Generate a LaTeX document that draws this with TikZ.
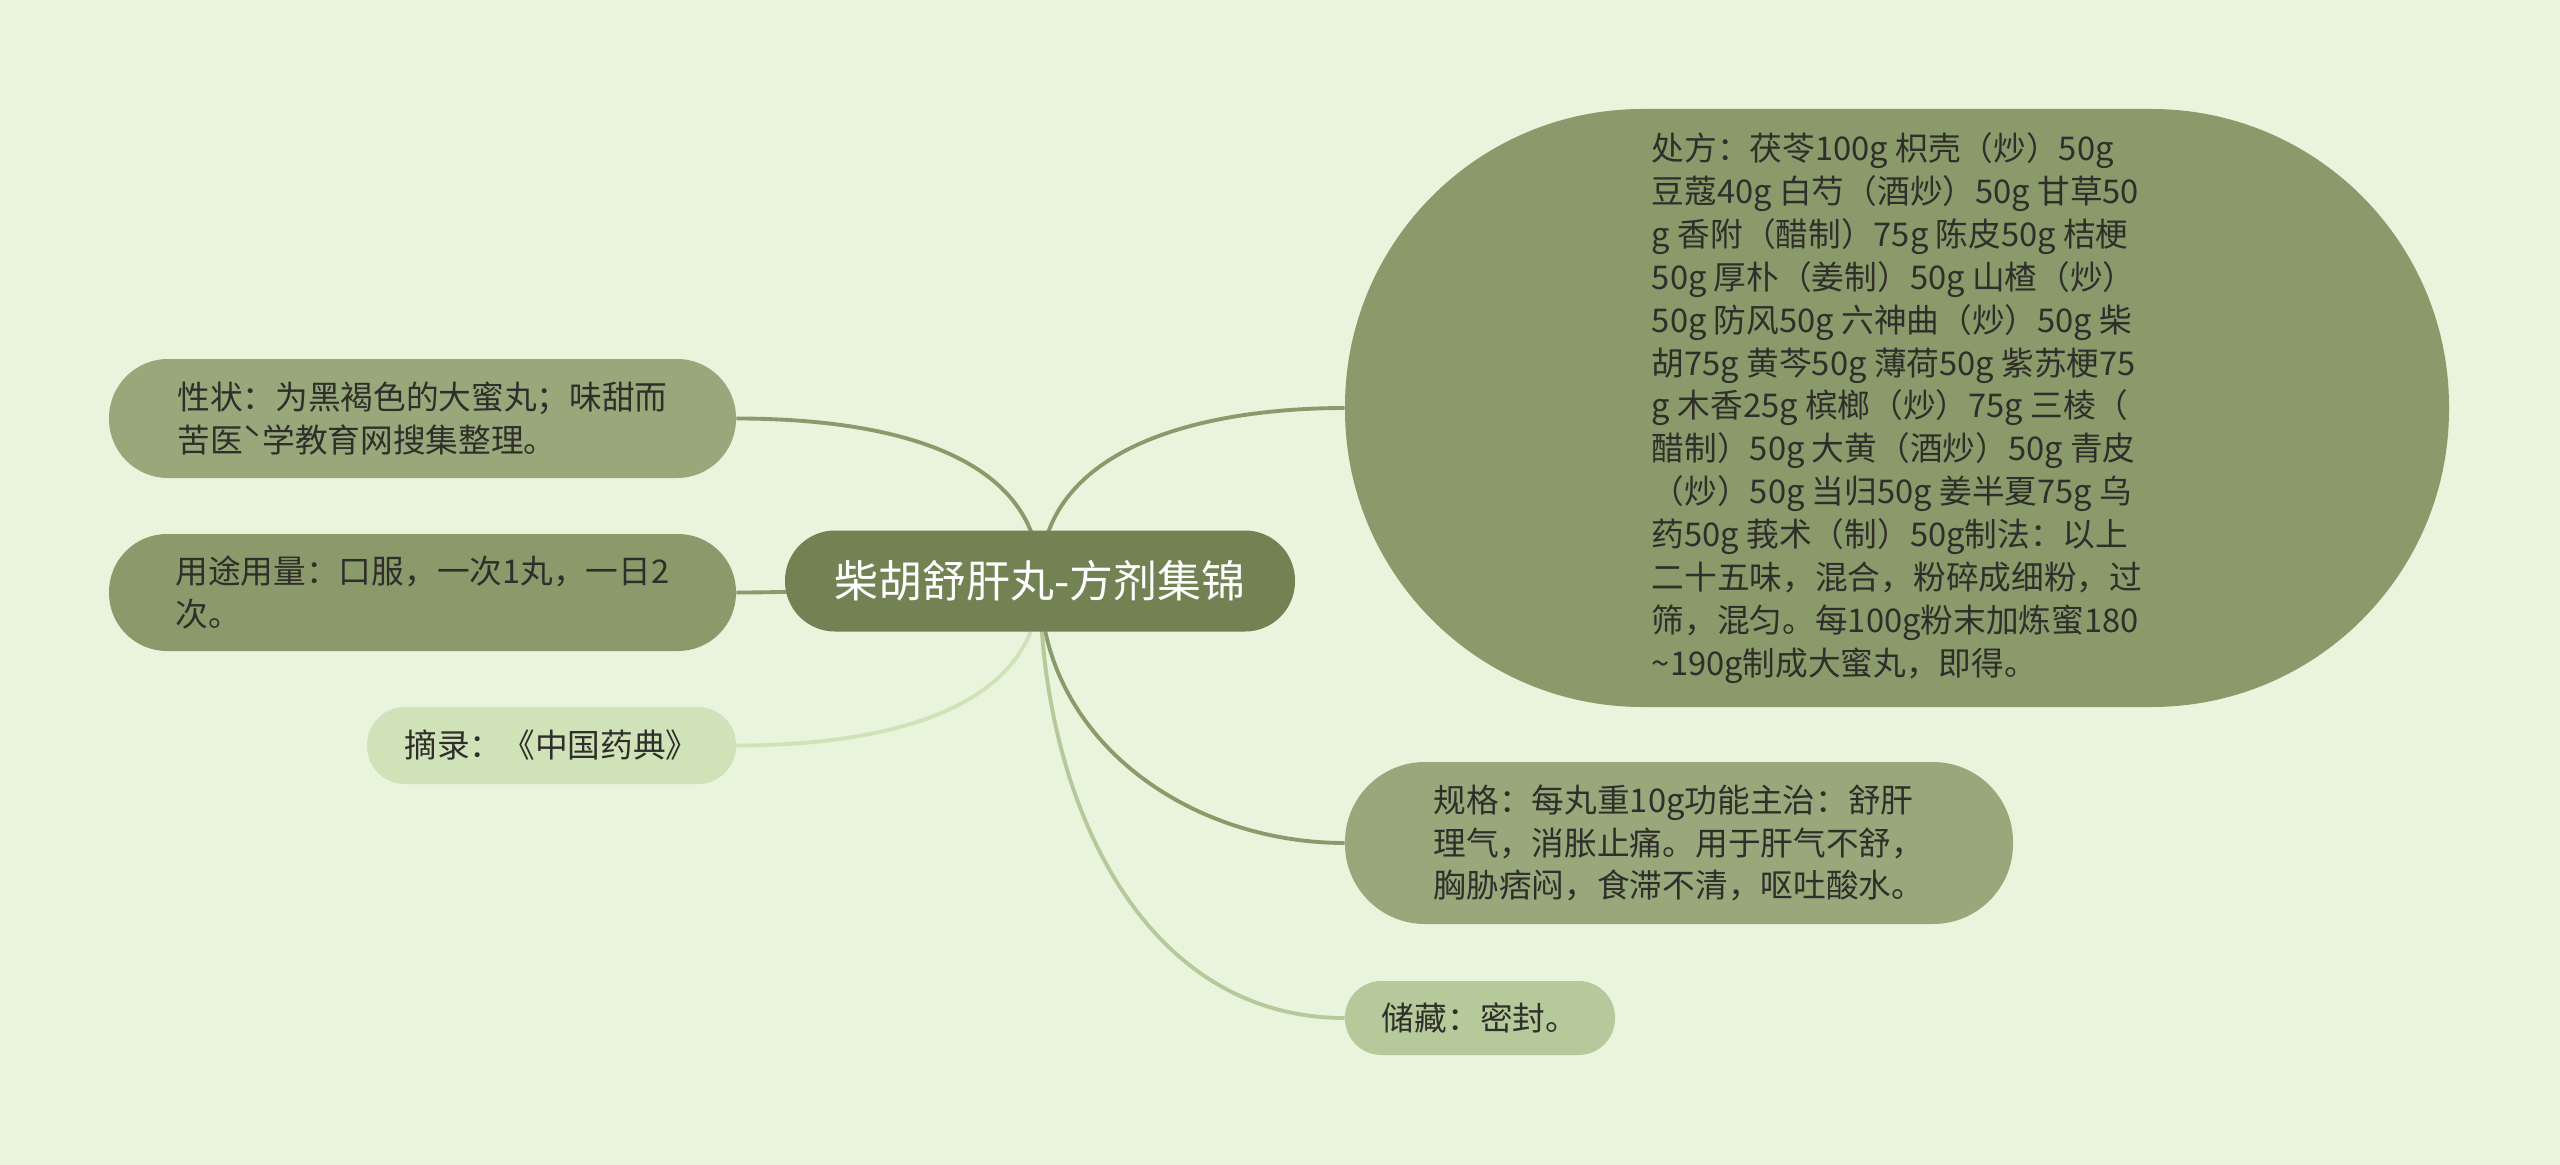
\documentclass[tikz,border=0pt]{standalone}
\usepackage{fontspec}
\setmainfont{Noto Sans CJK SC}
\usepackage{tikz}
\usetikzlibrary{positioning,backgrounds}

\definecolor{bgcol}{HTML}{E8F4DC}
\definecolor{rootcol}{HTML}{738253}
\definecolor{darkleaf}{HTML}{8A9A6A}
\definecolor{midleaf}{HTML}{98A87B}
\definecolor{lightleaf}{HTML}{B5C99A}
\definecolor{paleleaf}{HTML}{D0E2B8}
\definecolor{txtcol}{HTML}{2E2E2A}

\tikzset{
  leaf/.style={fill=#1, text=txtcol, align=left, inner sep=0pt,
    font=\fontsize{18.6}{24.4}\selectfont},
  link/.style={draw=#1, line width=2.2pt},
}

\begin{document}
\begin{tikzpicture}
  \useasboundingbox (0,0) rectangle (51.2,-23.3);

  % root
  \node[fill=rootcol, text=white, rounded corners=1cm, minimum width=10.2cm,
    minimum height=2.02cm, font=\fontsize{25}{30}\selectfont]
    (root) at (20.8,-11.62) {柴胡舒肝丸-方剂集锦};

  % left side
  \node[leaf=midleaf, rounded corners=1.18cm, minimum width=12.54cm, minimum height=2.38cm]
    (xingzhuang) at (8.45,-8.37)
    {性状：为黑褐色的大蜜丸；味甜而\\苦医ˋ学教育网搜集整理。};
  \node[leaf=darkleaf, rounded corners=1.16cm, minimum width=12.54cm, minimum height=2.34cm]
    (yongtu) at (8.45,-11.85)
    {用途用量：口服，一次1丸，一日2\\次。};
  \node[leaf=paleleaf, rounded corners=0.76cm, minimum width=7.38cm, minimum height=1.54cm]
    (zhailu) at (11.03,-14.91) {摘录：《中国药典》};

  % right side
  \node[leaf=darkleaf, rounded corners=5.95cm, minimum width=22.08cm, minimum height=11.96cm]
    (chufang) at (37.94,-8.16)
    {处方：茯苓100g 枳壳（炒）50g\\
     豆蔻40g 白芍（酒炒）50g 甘草50\\
     g 香附（醋制）75g 陈皮50g 桔梗\\
     50g 厚朴（姜制）50g 山楂（炒）\\
     50g 防风50g 六神曲（炒）50g 柴\\
     胡75g 黄芩50g 薄荷50g 紫苏梗75\\
     g 木香25g 槟榔（炒）75g 三棱（\\
     醋制）50g 大黄（酒炒）50g 青皮\\
     （炒）50g 当归50g 姜半夏75g 乌\\
     药50g 莪术（制）50g制法：以上\\
     二十五味，混合，粉碎成细粉，过\\
     筛，混匀。每100g粉末加炼蜜180\\
     {\char"7E}190g制成大蜜丸，即得。};
  \node[leaf=midleaf, rounded corners=1.6cm, minimum width=13.36cm, minimum height=3.24cm]
    (guige) at (33.58,-16.86)
    {规格：每丸重10g功能主治：舒肝\\理气，消胀止痛。用于肝气不舒，\\胸胁痞闷，食滞不清，呕吐酸水。};
  \node[leaf=lightleaf, rounded corners=0.73cm, minimum width=5.4cm, minimum height=1.48cm]
    (chucang) at (29.6,-20.36) {储藏：密封。};

  \begin{scope}[on background layer]
    \fill[bgcol] (0,0) rectangle (51.2,-23.3);
    \draw[link=darkleaf] (root.center) to[out=90,in=0] (xingzhuang.east);
    \draw[link=darkleaf] (root.center) to[out=180,in=0] (yongtu.east);
    \draw[link=paleleaf] (root.center) to[out=-90,in=0] (zhailu.east);
    \draw[link=darkleaf] (root.center) to[out=90,in=180] (chufang.west);
    \draw[link=darkleaf] (root.center) to[out=-90,in=180] (guige.west);
    \draw[link=lightleaf] (root.center) to[out=-90,in=180] (chucang.west);
  \end{scope}
\end{tikzpicture}
\end{document}
